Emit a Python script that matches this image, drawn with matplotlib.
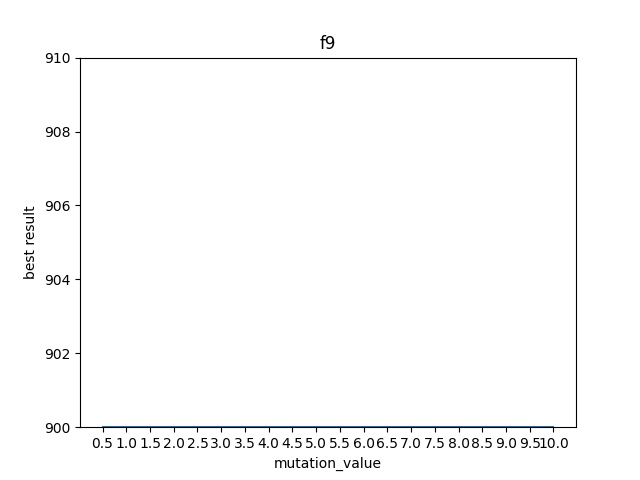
import matplotlib
matplotlib.use("Agg")
import matplotlib.pyplot as plt

mutation_values = ["0.5", "1.0", "1.5", "2.0", "2.5", "3.0", "3.5", "4.0", "4.5", "5.0",
                   "5.5", "6.0", "6.5", "7.0", "7.5", "8.0", "8.5", "9.0", "9.5", "10.0"]
best_results = [900.0] * 20

fig, ax = plt.subplots(figsize=(6.4, 4.8), dpi=100)
ax.plot(mutation_values, best_results)
ax.set_ylim(900, 910)
ax.set_title("f9")
ax.set_xlabel("mutation_value")
ax.set_ylabel("best result")
fig.savefig("out.png")
